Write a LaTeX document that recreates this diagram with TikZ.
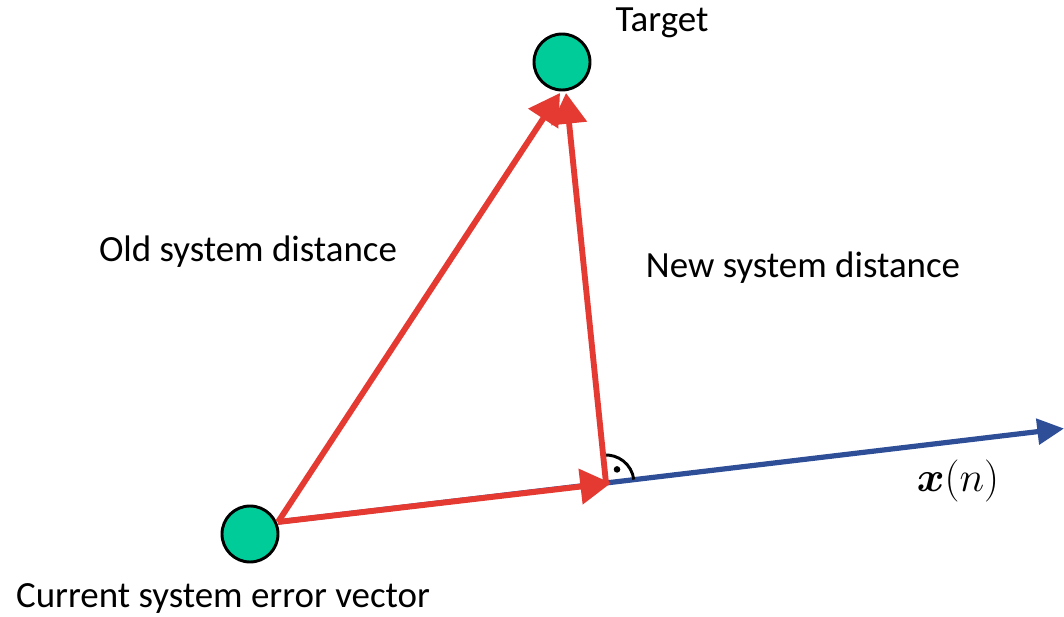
\documentclass[tikz,border=0pt]{standalone}
\usepackage{amsmath}
\usepackage{fontspec}
\setmainfont{Carlito}
\usetikzlibrary{arrows.meta}
\definecolor{vred}{RGB}{228,58,50}
\definecolor{vblue}{RGB}{47,78,152}
\definecolor{vgreen}{RGB}{0,204,153}
\tikzset{
  pt/.style={circle, draw=black, line width=2.2pt, fill=vgreen, minimum size=42pt, inner sep=0pt},
  redvec/.style={draw=vred, line width=4.4pt, -{Triangle[length=23pt,width=26pt]}},
  bluevec/.style={draw=vblue, line width=3.9pt, -{Triangle[length=20pt,width=19pt]}},
  lbl/.style={font=\fontsize{27.7}{33}\selectfont, inner sep=0pt}
}
\begin{document}
\begin{tikzpicture}[x=0.75pt,y=-0.75pt]
\useasboundingbox (0,0) rectangle (1064,617);
\node[pt] (c1) at (250,534) {};
\node[pt] (t) at (562,62) {};
\coordinate (s) at (278,522);
\coordinate (foot) at (606,483);
\coordinate (footTip) at (611,483);
\coordinate (tipA) at (560,93);
\coordinate (tipB) at (566,93);
\coordinate (xend) at (1064,428.5);
% blue axis
\draw[bluevec] (s) -- (xend);
% right angle mark
\draw[black, line width=2.2pt] ([shift={(-96:28)}]foot) arc[start angle=-96, end angle=-7, radius=28];
\fill[black] ([shift={(-51:17.5)}]foot) circle[radius=3.3];
% red vectors
\draw[redvec] (s) -- (footTip);
\draw[redvec] (s) -- (tipA);
\draw[redvec] (foot) -- (tipB);
% labels
\node[lbl] (lt) at (662,23) {Target};
\node[lbl] (lo) at (248,252) {Old system distance};
\node[lbl] (ln) at (803,268) {New system distance};
\node[lbl] (lc) at (223,598) {Current system error vector};
\node[inner sep=0pt, font=\fontsize{24.88}{30}\selectfont] (lx) at (958,481) {\scalebox{1.27}{$\boldsymbol{x}(n)$}};
\end{tikzpicture}
\end{document}
